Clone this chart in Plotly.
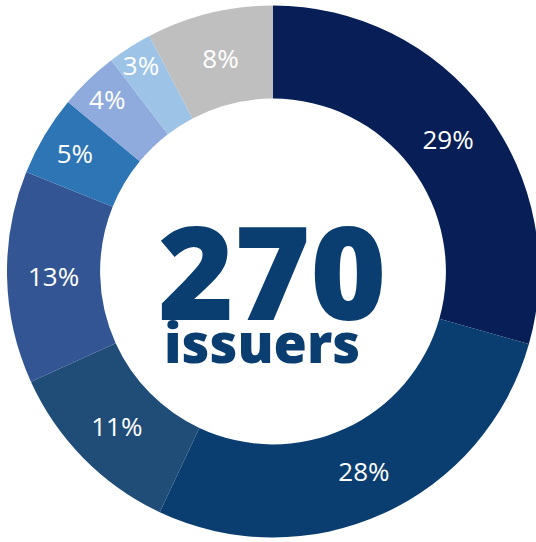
import plotly.graph_objects as go

# Data
categories = ["A", "B", "C", "D", "E", "F", "G", "H"]
shares = [29.4, 27.6, 11.2, 12.9, 4.9, 3.6, 2.7, 7.7]
labels_text = ["29%", "28%", "11%", "13%", "5%", "4%", "3%", "8%"]
colors = ["#071f56", "#0b3e70", "#204d77", "#335594", "#2e75b6", "#8faadc", "#9dc3e6", "#bfbfbf"]
center_number = "270"
center_label = "issuers"

W, H = 540, 542
CX, CY, R = 273, 271.5, 266

fig = go.Figure(go.Pie(
    labels=categories,
    values=shares,
    text=labels_text,
    textinfo="text",
    textposition="inside",
    insidetextorientation="horizontal",
    textfont=dict(family="Open Sans", size=26, color="white"),
    marker=dict(colors=colors, line=dict(width=0)),
    hole=0.65,
    sort=False,
    direction="clockwise",
    rotation=0,
    hoverinfo="skip",
    domain=dict(x=[(CX - R) / W, (CX + R) / W],
                y=[(H - CY - R) / H, (H - CY + R) / H]),
))

fig.add_annotation(
    text=center_number, x=272 / W, y=(H - 269) / H, xref="paper", yref="paper",
    xanchor="center", yanchor="middle", showarrow=False,
    font=dict(family="Open Sans", size=130, color="#0b3e70", weight=800),
)
fig.add_annotation(
    text=center_label, x=261.5 / W, y=(H - 342) / H, xref="paper", yref="paper",
    xanchor="center", yanchor="middle", showarrow=False,
    font=dict(family="Open Sans", size=54, color="#0b3e70", weight=800),
)

fig.update_layout(
    width=W, height=H,
    margin=dict(l=0, r=0, t=0, b=0),
    paper_bgcolor="white", plot_bgcolor="white",
    showlegend=False,
    uniformtext=dict(minsize=26, mode="show"),
)

fig.write_html(
    "out.html",
    config={"displayModeBar": False},
    post_script="document.body.style.margin='0';document.body.style.overflow='hidden';",
)
